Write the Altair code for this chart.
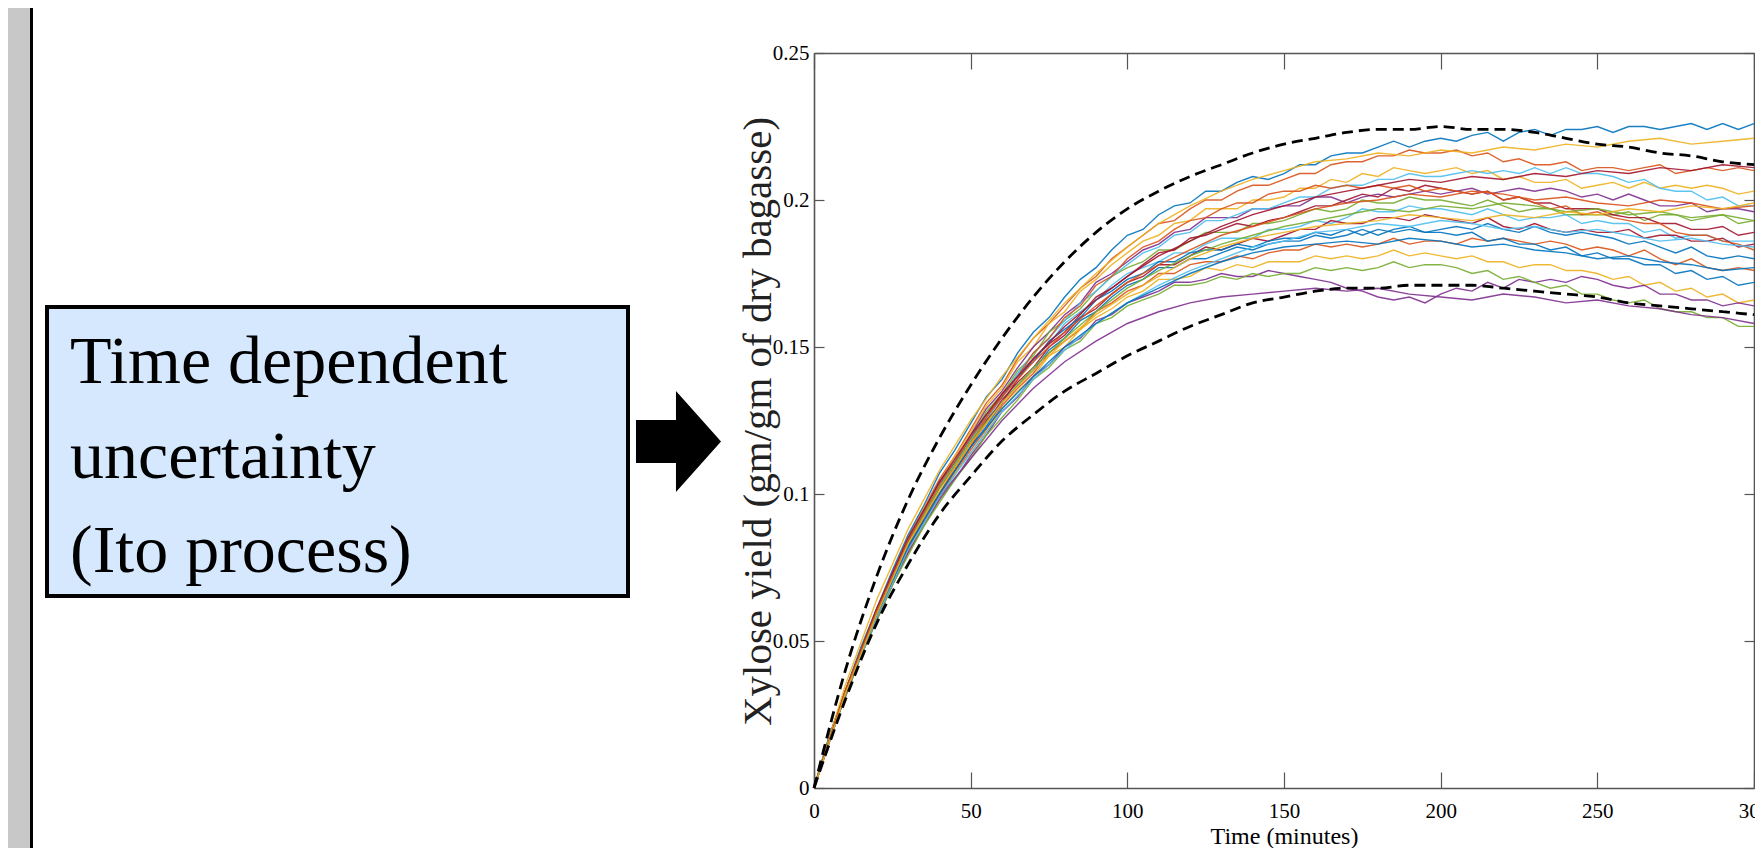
import altair as alt
import pandas as pd

# ---------------- data (yield values in units of 0.001 gm/gm) ----------------
T_PATH = list(range(0, 301, 5))
PATHS = {
    "p01": [0,18,33,48,61,74,86,96,107,115,124,133,139,148,155,160,167,173,177,183,188,190,195,198,199,203,203,206,208,207,209,212,212,215,216,216,218,220,218,220,221,220,222,223,220,223,224,222,224,224,225,223,225,225,224,225,226,224,226,224,226],
    "p02": [0,17,33,47,61,73,85,95,105,113,122,131,137,146,153,158,164,170,174,180,184,188,192,193,197,200,200,203,205,205,207,209,209,212,213,213,215,215,217,216,216,217,215,216,213,214,212,212,213,210,211,211,210,211,212,209,210,211,210,211,210],
    "p03": [0,18,32,47,61,72,84,95,104,113,121,130,136,145,150,158,162,169,173,178,182,186,188,192,193,197,197,197,200,200,201,204,204,207,206,209,208,211,210,209,210,211,209,210,207,208,206,206,207,204,205,206,204,206,204,205,204,205,204,202,203],
    "p04": [0,17,33,47,60,73,84,94,104,111,120,129,135,143,150,155,161,165,172,175,179,183,185,189,190,194,194,194,197,197,198,198,201,201,199,201,202,201,202,203,202,203,204,202,203,204,203,204,203,201,202,200,202,200,198,198,199,196,197,197,196],
    "p05": [0,18,33,46,60,72,84,93,103,111,119,128,134,142,147,155,159,163,169,174,177,179,183,183,186,189,189,189,192,192,193,195,197,196,197,200,199,199,201,200,200,199,198,200,198,196,197,197,195,195,195,195,196,193,195,195,193,194,195,192,193],
    "p06": [0,17,32,47,59,72,82,93,103,110,118,125,133,141,146,151,158,162,166,171,175,177,179,182,182,185,187,187,187,190,190,191,193,192,194,197,196,196,198,197,197,196,195,197,195,193,194,194,195,192,193,192,192,189,190,187,188,188,186,186,186],
    "p07": [0,17,31,46,59,70,82,92,100,109,117,124,132,138,143,150,154,160,163,168,172,174,178,178,181,184,183,185,187,186,188,190,190,193,192,192,194,194,193,195,194,193,192,194,191,190,192,190,189,190,189,189,190,187,188,188,186,186,187,184,185],
    "p08": [0,17,32,45,59,70,81,92,100,108,116,123,131,137,142,149,153,159,162,167,171,173,177,177,180,180,182,184,183,185,186,186,188,187,188,190,188,190,191,189,190,191,190,192,190,189,191,189,188,189,188,187,185,186,184,182,184,181,180,181,180],
    "p09": [0,17,31,45,58,70,80,91,99,107,115,122,130,136,141,148,152,156,162,165,169,171,175,175,178,179,179,181,180,182,183,183,185,184,185,184,185,187,185,186,186,185,187,186,187,186,185,186,185,183,184,183,181,183,180,178,180,177,176,177,176],
    "p10": [0,17,31,45,58,69,80,90,98,107,114,121,129,135,140,147,150,156,160,163,167,169,173,173,174,177,176,178,177,179,179,179,181,180,181,180,181,183,181,182,181,180,181,179,179,177,178,178,176,176,175,173,174,171,172,169,170,167,168,165,166],
    "p11": [0,17,31,45,57,69,80,89,98,105,113,120,128,133,140,144,150,153,159,161,165,167,169,172,172,173,175,174,174,176,175,174,173,172,170,169,167,166,167,165,168,170,169,172,170,173,172,173,172,174,173,171,170,171,168,168,166,166,164,165,164],
    "p12": [0,17,31,45,57,69,79,89,97,105,112,120,126,132,139,143,149,152,158,160,164,166,168,171,171,172,174,173,175,174,175,175,177,176,177,176,177,179,177,178,178,177,175,176,173,174,172,170,171,168,168,166,165,166,163,162,162,160,160,157,157],
    "p13": [0,17,32,47,59,72,83,92,102,110,118,127,133,141,148,153,159,165,169,174,178,182,184,188,189,193,193,195,197,197,199,201,201,204,205,205,207,207,209,208,208,209,210,209,210,209,211,209,211,209,209,208,206,207,204,203,203,200,201,198,198],
    "p14": [0,17,32,46,58,71,81,92,100,108,116,125,131,139,146,151,155,161,167,170,174,178,182,183,187,188,190,192,191,193,194,196,198,198,200,202,201,204,203,205,204,203,202,203,200,201,199,199,197,197,197,195,194,194,192,192,190,190,191,188,189],
    "p15": [0,18,33,47,61,72,84,94,104,111,119,127,133,140,145,152,156,160,166,169,173,175,179,179,182,183,183,185,184,186,187,187,189,188,190,188,190,189,190,189,189,188,189,186,187,185,185,183,184,181,182,180,180,178,178,175,176,173,174,171,172],
    "p16": [0,17,33,46,60,71,83,92,102,109,117,126,134,140,148,153,160,164,171,174,180,184,186,190,193,194,197,199,199,202,203,203,205,204,205,204,205,204,205,203,204,203,202,203,200,201,199,197,198,195,196,194,193,192,192,189,188,188,186,185,183],
}
# additional sample paths read at 10-minute spacing
T_COARSE = list(range(0, 301, 10))
PATHS_COARSE = {
    "p17": [0,35,64,88,108,125,140,153,165,175,184,192,198,203,207,210,213,214,216,215,217,216,218,217,219,218,220,221,219,220,221],
    "p18": [0,32,59,82,99,112,125,136,145,152,158,162,165,167,168,169,170,169,170,168,167,166,168,167,165,166,164,163,161,160,158],
    "p19": [0,33,60,83,102,118,131,143,153,162,170,176,181,185,188,191,193,195,197,196,198,197,199,198,196,197,195,196,194,195,193],
    "p20": [0,32,58,81,99,114,128,139,149,158,165,171,176,180,184,186,189,190,192,191,193,192,190,191,189,190,188,186,187,185,184],
    "p21": [0,33,61,85,104,120,134,146,157,166,174,181,186,191,195,198,201,203,205,207,206,208,207,209,208,210,209,211,210,212,211],
    "p22": [0,32,59,82,100,116,129,140,150,158,165,170,175,179,182,184,185,186,185,187,186,184,185,183,182,180,181,179,178,176,177],
    "p23": [0,33,60,84,103,119,133,145,155,164,172,178,183,188,191,194,197,199,200,202,201,203,202,200,201,199,198,200,199,197,198],
    "p24": [0,32,59,83,101,117,131,142,152,161,168,174,180,184,187,189,191,192,193,195,194,193,195,194,196,195,197,196,198,197,199],
}
T_ENV = list(range(0, 301, 10))
UPPER = [0,40,72,98,119,137,153,167,179,189,197,203,208,212,216,219,221,223,224,224,225,224,224,223,221,219,218,216,215,213,212]
LOWER = [0,30,56,76,93,106,118,127,135,141,147,152,157,161,165,167,169,170,170,171,171,171,170,169,168,167,165,164,163,162,161]

MATLAB_COLORS = ["#0072BD", "#D95319", "#EDB120", "#7E2F8E", "#77AC30", "#4DBEEE", "#A2142F"]
X_TICKS = [0, 50, 100, 150, 200, 250, 300]
Y_TICKS = [0, 0.05, 0.1, 0.15, 0.2, 0.25]
SLIDE_LINES = ["Time dependent", "uncertainty", "(Ito process)"]
X_TITLE = "Time (minutes)"
Y_TITLE = "Xylose yield (gm/gm of dry bagasse)"

# ---------------- tables ----------------
rows = [{"path": n, "t": t, "y": v / 1000} for n, vals in PATHS.items() for t, v in zip(T_PATH, vals)]
rows += [{"path": n, "t": t, "y": v / 1000} for n, vals in PATHS_COARSE.items() for t, v in zip(T_COARSE, vals)]
paths_df = pd.DataFrame(rows)
up_df = pd.DataFrame({"t": T_ENV, "y": [v / 1000 for v in UPPER]})
lo_df = pd.DataFrame({"t": T_ENV, "y": [v / 1000 for v in LOWER]})

names = list(PATHS) + list(PATHS_COARSE)
colors = [MATLAB_COLORS[i % len(MATLAB_COLORS)] for i in range(len(names))]

SERIF = "Liberation Serif"
AX = "#555555"
W, H = 940, 735

xs = alt.Scale(domain=[0, 300], nice=False, zero=False)
ys = alt.Scale(domain=[0, 0.25], nice=False, zero=False)

x_main = alt.Axis(orient="bottom", offset=0, values=X_TICKS, labelFont=SERIF, labelFontSize=21,
                  labelColor="black", labelPadding=12, labelFlush=False, ticks=False, tickSize=0,
                  domain=True, domainColor=AX, domainWidth=1.6, grid=False,
                  title=X_TITLE, titleFont=SERIF, titleFontSize=24, titleFontWeight="normal",
                  titleColor="black", titleX=470, titleY=55, titleBaseline="alphabetic")
y_main = alt.Axis(orient="left", offset=0, values=Y_TICKS, format="~g", labelFont=SERIF,
                  labelFontSize=21, labelColor="black", labelPadding=5, ticks=False, tickSize=0,
                  domain=True, domainColor=AX, domainWidth=1.6, grid=False,
                  title=Y_TITLE, titleFont=SERIF, titleFontSize=41, titleFontWeight="normal",
                  titleColor="#222222", titleX=-44, titleY=368, titleBaseline="alphabetic")
# inward ticks at the bottom and left edges
x_in_bottom = alt.Axis(orient="top", offset=-H, values=X_TICKS, labels=False, domain=False,
                       ticks=True, tickSize=16, tickColor=AX, tickWidth=1.2, grid=False, title=None)
y_in_left = alt.Axis(orient="right", offset=-W, values=Y_TICKS, labels=False, domain=False,
                     ticks=True, tickSize=10, tickColor=AX, tickWidth=1.2, grid=False, title=None)
# top and right borders with inward ticks
x_top = alt.Axis(orient="bottom", offset=-H, values=X_TICKS, labels=False, domain=True,
                 domainColor=AX, domainWidth=1.6, ticks=True, tickSize=16, tickColor=AX,
                 tickWidth=1.2, grid=False, title=None)
y_right = alt.Axis(orient="left", offset=-W, values=Y_TICKS, labels=False, domain=True,
                   domainColor=AX, domainWidth=1.6, ticks=True, tickSize=10, tickColor=AX,
                   tickWidth=1.2, grid=False, title=None)

one = alt.Data(values=[{"k": 0}])

strip = alt.Chart(one).mark_rect(color="#C8C8C8").encode(
    x=alt.value(-806), x2=alt.value(-784), y=alt.value(-45), y2=alt.value(795))
vline = alt.Chart(one).mark_rect(color="black").encode(
    x=alt.value(-784), x2=alt.value(-781), y=alt.value(-45), y2=alt.value(795))
box = alt.Chart(one).mark_rect(fill="#D5E8FD", stroke="black", strokeWidth=4).encode(
    x=alt.value(-767), x2=alt.value(-186), y=alt.value(254), y2=alt.value(543))
label = alt.Chart(one).mark_text(text=SLIDE_LINES, font=SERIF, fontSize=68, align="left",
                                 baseline="alphabetic", lineHeight=94.5, color="black").encode(
    x=alt.value(-744), y=alt.value(330))
ARROW = "M-0.842,-0.426 L-0.05,-0.426 L-0.05,-1 L0.842,0 L-0.05,1 L-0.05,0.426 L-0.842,0.426 Z"
arrow = alt.Chart(one).mark_point(shape=ARROW, size=10201, filled=True, color="black",
                                  opacity=1, strokeWidth=0).encode(
    x=alt.value(-135.5), y=alt.value(388.5))

paths = alt.Chart(paths_df).mark_line(strokeWidth=1.4, opacity=0.9).encode(
    x=alt.X("t:Q", scale=xs, axis=x_main),
    y=alt.Y("y:Q", scale=ys, axis=y_main),
    color=alt.Color("path:N", scale=alt.Scale(domain=names, range=colors), legend=None),
)
upper = alt.Chart(up_df).mark_line(color="black", strokeDash=[11, 6], strokeWidth=2.8,
                                   interpolate="monotone").encode(
    x=alt.X("t:Q", scale=xs, axis=x_in_bottom),
    y=alt.Y("y:Q", scale=ys, axis=y_in_left),
)
lower = alt.Chart(lo_df).mark_line(color="black", strokeDash=[11, 6], strokeWidth=2.8,
                                   interpolate="monotone").encode(
    x=alt.X("t:Q", scale=xs, axis=x_top),
    y=alt.Y("y:Q", scale=ys, axis=y_right),
)

chart = alt.layer(strip, vline, box, label, arrow, paths, upper, lower).resolve_axis(
    x="independent", y="independent"
).properties(
    width=W, height=H,
    padding={"left": 806, "top": 45, "right": 1, "bottom": 60},
    autosize=alt.AutoSizeParams(type="none"),
    background="white",
).configure_view(stroke=None)

chart.save("out.html", embed_options={"renderer": "svg", "actions": False})
